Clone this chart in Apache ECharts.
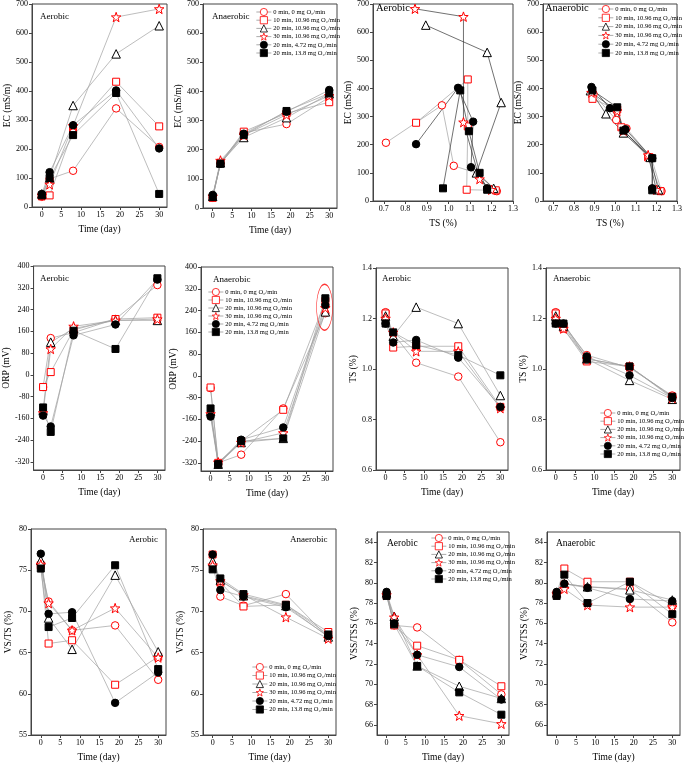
<!DOCTYPE html>
<html><head><meta charset="utf-8">
<script src="https://cdn.jsdelivr.net/npm/echarts@6/dist/echarts.min.js"></script>
<style>html,body{margin:0;padding:0;background:#fff}#c{width:685px;height:763px}</style>
</head><body><div id="c"></div>
<script>
const days = [0, 2, 8, 19, 30];
const seriesNames = ['0 min, 0 mg O\u2082/min', '10 min, 10.96 mg O\u2082/min', '20 min, 10.96 mg O\u2082/min', '30 min, 10.96 mg O\u2082/min', '20 min, 4.72 mg O\u2082/min', '20 min, 13.8 mg O\u2082/min'];

const ecAerobic = [
  [35, 97, 125, 340, 207],
  [38, 40, 265, 432, 278],
  [45, 100, 350, 528, 625],
  [40, 78, 280, 655, 683],
  [45, 120, 282, 402, 202],
  [40, 100, 248, 393, 45]
];
const ecAnaerobic = [
  [35, 155, 258, 288, 380],
  [35, 155, 262, 325, 363],
  [40, 155, 242, 310, 392],
  [40, 163, 250, 320, 385],
  [45, 152, 255, 330, 405],
  [38, 152, 250, 333, 393]
];
const tsAerobic = [
  [1.225, 1.14, 1.025, 0.97, 0.71],
  [1.22, 1.085, 1.09, 1.09, 0.85],
  [1.21, 1.13, 1.245, 1.18, 0.895],
  [1.20, 1.145, 1.07, 1.07, 0.845],
  [1.18, 1.105, 1.115, 1.045, 0.85],
  [1.18, 1.145, 1.095, 1.055, 0.975]
];
const tsAnaerobic = [
  [1.225, 1.175, 1.055, 1.005, 0.895],
  [1.22, 1.16, 1.03, 1.01, 0.89],
  [1.21, 1.17, 1.04, 0.955, 0.88],
  [1.20, 1.16, 1.04, 1.01, 0.885],
  [1.18, 1.18, 1.05, 0.975, 0.885],
  [1.18, 1.18, 1.04, 1.01, 0.89]
];
const orpAerobic = [
  [-45, 135, 155, 205, 330],
  [-45, 10, 165, 205, 210],
  [-130, 120, 170, 200, 200],
  [-140, 95, 178, 200, 205],
  [-150, -190, 145, 185, 350],
  [-120, -210, 162, 95, 355]
];
const orpAnaerobic = [
  [-45, -320, -290, -120, 230],
  [-43, -320, -240, -125, 275],
  [-130, -325, -245, -230, 235],
  [-140, -318, -245, -210, 250],
  [-150, -325, -235, -190, 260],
  [-120, -325, -240, -230, 285]
];
const orpHighlight = [29.8, 252];
const vsTsAerobic = [
  [75.7, 71.2, 67.7, 68.3, 61.7],
  [75.6, 66.1, 66.5, 61.1, 64.5],
  [76.2, 69.2, 65.4, 74.4, 65.1],
  [75.7, 71.0, 67.7, 70.4, 64.4],
  [77.0, 69.7, 69.9, 58.9, 62.6],
  [75.2, 68.1, 69.2, 75.6, 63.0]
];
const vsTsAnaerobic = [
  [75.6, 71.8, 70.7, 72.1, 66.8],
  [76.9, 73.5, 70.6, 70.8, 67.5],
  [76.1, 73.8, 71.9, 70.7, 66.9],
  [75.6, 73.7, 72.0, 69.3, 66.7],
  [76.9, 72.6, 71.8, 70.5, 67.0],
  [75.1, 74.0, 72.1, 70.8, 67.2]
];
const vssTssAerobic = [
  [78.9, 75.8, 75.6, 72.4, 69.0],
  [78.8, 75.8, 73.8, 72.4, 69.8],
  [79.0, 76.7, 71.8, 69.8, 68.6],
  [78.8, 76.6, 72.9, 66.9, 66.1],
  [79.1, 76.0, 72.9, 71.7, 68.5],
  [78.7, 75.9, 71.8, 69.2, 67.0]
];
const vssTssAnaerobic = [
  [79.0, 79.9, 79.6, 79.4, 76.1],
  [78.9, 81.4, 80.1, 80.1, 77.8],
  [79.0, 79.9, 79.6, 79.3, 78.3],
  [78.9, 79.4, 77.8, 77.6, 77.6],
  [79.1, 79.9, 79.5, 78.4, 78.2],
  [78.7, 80.8, 78.0, 80.1, 76.9]
];

const dayTicks = [0, 5, 10, 15, 20, 25, 30];
const ecTicks = [0, 100, 200, 300, 400, 500, 600, 700];
const tsXTicks = [0.7, 0.8, 0.9, 1.0, 1.1, 1.2, 1.3];
const orpTicks = [-320, -240, -160, -80, 0, 80, 160, 240, 320, 400];
const tsTicks = [0.6, 0.8, 1.0, 1.2, 1.4];
const vsTsTicks = [55, 60, 65, 70, 75, 80];
const vssTicks = [66, 68, 70, 72, 74, 76, 78, 80, 82, 84];

const FONT = '"Liberation Serif", "Times New Roman", serif';
const STAR = 'path://M0,-10 L2.35,-3.24 L9.51,-3.09 L3.80,1.24 L5.88,8.09 L0,4 L-5.88,8.09 L-3.80,1.24 L-9.51,-3.09 L-2.35,-3.24 Z';
const markers = [
  {symbol: 'circle', size: 7.5, fill: '#fff', stroke: '#ff0000'},
  {symbol: 'rect', size: 7, fill: '#fff', stroke: '#ff0000'},
  {symbol: 'triangle', size: 8.5, fill: '#fff', stroke: '#000'},
  {symbol: STAR, size: 9.5, fill: '#fff', stroke: '#ff0000'},
  {symbol: 'circle', size: 7.5, fill: '#000', stroke: '#000'},
  {symbol: 'rect', size: 7, fill: '#000', stroke: '#000'}
];

const timeX = {range: [-2.5, 32], ticks: dayTicks, name: 'Time (day)', fmt: v => String(v)};
const tsX = {range: [0.65, 1.3], ticks: tsXTicks, name: 'TS (%)', fmt: v => v.toFixed(1)};
const GREY = '#a0a0a0';
const DARK = ['#a0a0a0', '#a0a0a0', '#333', '#333', '#333', '#333'];

const panels = [
  {rect: [32, 3, 135, 204], x: timeX, y: {range: [0, 700], ticks: ecTicks, name: 'EC (mS/m)', gap: 20}, yv: ecAerobic, title: 'Aerobic', tpos: [40, 12], tsize: 9, line: GREY},
  {rect: [203, 4, 134, 204], x: timeX, y: {range: [0, 700], ticks: ecTicks, name: 'EC (mS/m)', gap: 20}, yv: ecAnaerobic, title: 'Anaerobic', tpos: [212, 12], tsize: 9, line: GREY, legend: [256, 8, 0.2]},
  {rect: [373, 3, 140, 198], x: tsX, y: {range: [0, 700], ticks: ecTicks, name: 'EC (mS/m)', gap: 20}, yv: ecAerobic, xv: tsAerobic, title: 'Aerobic', tpos: [376, 3], tsize: 10.5, line: DARK},
  {rect: [543, 3, 140, 198], x: tsX, y: {range: [0, 700], ticks: ecTicks, name: 'EC (mS/m)', gap: 20}, yv: ecAnaerobic, xv: tsAnaerobic, title: 'Anaerobic', tpos: [545, 3], tsize: 10.5, line: DARK, legend: [598, 5, 0.8]},
  {rect: [29, 266, 136, 204], x: timeX, y: {range: [-350, 400], ticks: orpTicks, name: 'ORP (mV)', gap: 20}, yv: orpAerobic, title: 'Aerobic', tpos: [40, 274], tsize: 9, line: GREY},
  {rect: [201, 267, 132, 204], x: timeX, y: {range: [-350, 400], ticks: orpTicks, name: 'ORP (mV)', gap: 20}, yv: orpAnaerobic, title: 'Anaerobic', tpos: [213, 275], tsize: 9, line: GREY, legend: [208, 288, 0]},
  {rect: [376, 268, 132, 202], x: timeX, y: {range: [0.6, 1.4], ticks: tsTicks, name: 'TS (%)', gap: 18, fmt: v => v.toFixed(1)}, yv: tsAerobic, title: 'Aerobic', tpos: [382, 274], tsize: 9, line: GREY},
  {rect: [546, 268, 134, 202], x: timeX, y: {range: [0.6, 1.4], ticks: tsTicks, name: 'TS (%)', gap: 18, fmt: v => v.toFixed(1)}, yv: tsAnaerobic, title: 'Anaerobic', tpos: [553, 274], tsize: 9, line: GREY, legend: [600, 409, 0.2]},
  {rect: [31, 529, 135, 207], x: timeX, y: {range: [55, 80], ticks: vsTsTicks, name: 'VS/TS (%)', gap: 18}, yv: vsTsAerobic, title: 'Aerobic', tpos: [129, 535], tsize: 9, line: GREY},
  {rect: [203, 529, 133, 207], x: timeX, y: {range: [55, 80], ticks: vsTsTicks, name: 'VS/TS (%)', gap: 18}, yv: vsTsAnaerobic, title: 'Anaerobic', tpos: [290, 535], tsize: 9, line: GREY, legend: [252, 663, 0.5]},
  {rect: [377, 532, 132, 203], x: timeX, y: {range: [65, 85], ticks: vssTicks, name: 'VSS/TSS (%)', gap: 18}, yv: vssTssAerobic, title: 'Aerobic', tpos: [387, 538], tsize: 9.5, line: GREY, legend: [431, 534, 0.2]},
  {rect: [547, 532, 133, 203], x: timeX, y: {range: [65, 85], ticks: vssTicks, name: 'VSS/TSS (%)', gap: 18}, yv: vssTssAnaerobic, title: 'Anaerobic', tpos: [556, 538], tsize: 9.5, line: GREY}
];

const grid = [], xAxis = [], yAxis = [], series = [], legend = [], graphic = [];
const axisCommon = (p, a, isX) => ({
  type: 'value', gridIndex: p, min: a.range[0], max: a.range[1],
  axisLine: {show: true, onZero: false, lineStyle: {color: '#444', width: 1}},
  axisTick: {show: true, customValues: a.ticks, length: 3, lineStyle: {color: '#444'}},
  axisLabel: {customValues: a.ticks, fontSize: 8, color: '#000', fontFamily: FONT, margin: 4, formatter: a.fmt || (v => String(v))},
  splitLine: {show: false},
  name: a.name, nameLocation: 'middle', nameGap: isX ? 17 : a.gap,
  nameTextStyle: {fontSize: 9.5, fontFamily: FONT, color: '#000'}
});

panels.forEach((pn, p) => {
  grid.push({left: pn.rect[0], top: pn.rect[1], width: pn.rect[2], height: pn.rect[3], show: true, borderColor: '#444', borderWidth: 1, backgroundColor: 'transparent', containLabel: false});
  xAxis.push(axisCommon(p, pn.x, true));
  yAxis.push(axisCommon(p, pn.y, false));
  pn.yv.forEach((vals, s) => {
    const m = markers[s];
    series.push({
      type: 'line', name: seriesNames[s], xAxisIndex: p, yAxisIndex: p,
      data: vals.map((v, k) => [pn.xv ? pn.xv[s][k] : days[k], v]),
      symbol: m.symbol, symbolSize: m.size, showAllSymbol: true,
      itemStyle: {color: m.fill, borderColor: m.stroke, borderWidth: 1},
      lineStyle: {color: Array.isArray(pn.line) ? pn.line[s] : pn.line, width: 0.7},
      emphasis: {disabled: true}, animation: false
    });
  });
  graphic.push({type: 'text', left: pn.tpos[0], top: pn.tpos[1], style: {text: pn.title, font: pn.tsize + 'px ' + FONT, fill: '#000'}});
  if (pn.legend) {
    legend.push({
      orient: 'vertical', left: pn.legend[0], top: pn.legend[1], itemGap: pn.legend[2],
      itemWidth: 15, itemHeight: 9, padding: 0, selectedMode: false,
      itemStyle: {borderWidth: 0.8},
      lineStyle: {color: '#888', width: 0.7},
      textStyle: {fontSize: 6.5, fontFamily: FONT, color: '#000', padding: [0, 0, 0, -3]},
      data: seriesNames
    });
  }
});

series.push({
  type: 'scatter', name: 'highlight', xAxisIndex: 5, yAxisIndex: 5,
  data: [orpHighlight], symbol: 'circle', symbolSize: [16, 46],
  itemStyle: {color: 'rgba(0,0,0,0)', borderColor: '#ff0000', borderWidth: 1}, z: 10, silent: true
});

const chart = echarts.init(document.getElementById('c'), null, {renderer: 'canvas'});
chart.setOption({animation: false, backgroundColor: '#fff', grid, xAxis, yAxis, series, legend, graphic});
</script></body></html>
